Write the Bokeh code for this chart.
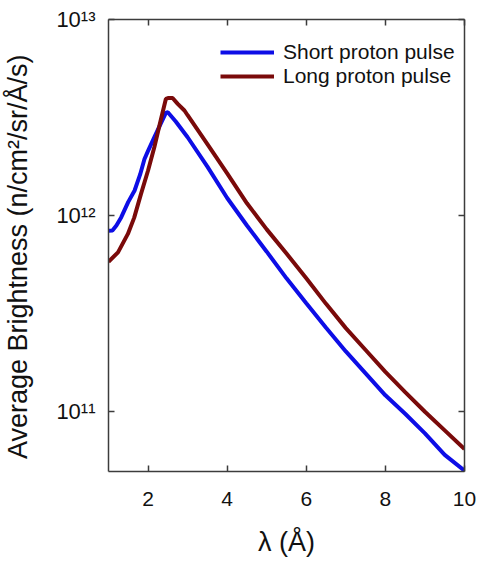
from bokeh.plotting import figure
from bokeh.models import Range1d, FixedTicker, LinearAxis, LogAxis, Legend, LegendItem
from bokeh.embed import file_html
from bokeh.resources import INLINE

# Wavelength (Å) and brightness (n/cm^2/sr/Å/s)
short_x = [1.0, 1.1, 1.2, 1.32, 1.5, 1.66, 1.8, 1.91, 2.0, 2.16, 2.3, 2.45, 2.5,
           2.7, 3.0, 3.5, 4.0, 4.5, 5.0, 5.5, 6.0, 6.5, 7.0, 7.5, 8.0, 8.5, 9.0, 9.5, 10.0]
short_y = [8.37e11, 8.41e11, 8.91e11, 9.79e11, 1.175e12, 1.343e12, 1.622e12, 1.945e12,
           2.138e12, 2.512e12, 2.884e12, 3.342e12, 3.365e12, 3.02e12, 2.51e12, 1.778e12,
           1.23e12, 8.91e11, 6.55e11, 4.79e11, 3.58e11, 2.68e11, 2.03e11, 1.57e11,
           1.213e11, 9.77e10, 7.76e10, 6.03e10, 5.01e10]

long_x = [1.0, 1.24, 1.49, 1.65, 1.82, 2.0, 2.16, 2.3, 2.45, 2.52, 2.62, 2.75, 2.92,
          3.0, 3.5, 4.0, 4.5, 5.0, 5.5, 6.0, 6.5, 7.0, 7.5, 8.0, 8.5, 9.0, 9.5, 10.0]
long_y = [5.82e11, 6.50e11, 8.07e11, 9.77e11, 1.288e12, 1.698e12, 2.239e12, 2.951e12,
          3.936e12, 3.98e12, 3.98e12, 3.715e12, 3.436e12, 3.25e12, 2.317e12, 1.644e12,
          1.156e12, 8.51e11, 6.41e11, 4.79e11, 3.55e11, 2.67e11, 2.065e11, 1.596e11,
          1.259e11, 1.0e11, 8.04e10, 6.46e10]

x_ticks = [2, 4, 6, 8, 10]
y_ticks = [1e11, 1e12, 1e13]
y_tick_labels = ["10\u00b9\u00b9", "10\u00b9\u00b2", "10\u00b9\u00b3"]

series_names = ["Short proton pulse", "Long proton pulse"]
series_colors = ["#0d0de6", "#7a0a0a"]

FONT = "Liberation Sans"
AX_COLOR = "#3c3c3c"

p = figure(width=479, height=564, output_backend="svg", toolbar_location=None,
           y_axis_type="log", x_range=Range1d(1, 10), y_range=Range1d(4.96e10, 1e13),
           min_border_left=107, min_border_right=15, min_border_top=19, min_border_bottom=93,
           x_axis_location=None, y_axis_location=None)
p.outline_line_color = None
p.xgrid.visible = False
p.ygrid.visible = False
p.background_fill_color = "white"
p.border_fill_color = "white"

r1 = p.line(short_x, short_y, line_color=series_colors[0], line_width=4)
r2 = p.line(long_x, long_y, line_color=series_colors[1], line_width=4)

def style(ax):
    ax.axis_line_color = AX_COLOR
    ax.axis_line_width = 1.5
    ax.major_tick_line_color = AX_COLOR
    ax.major_tick_line_width = 1.5
    ax.major_tick_in = 6
    ax.major_tick_out = 0
    ax.minor_tick_line_color = None
    ax.major_label_text_font = FONT
    ax.major_label_text_color = "#111111"
    ax.axis_label_text_font = FONT
    ax.axis_label_text_font_style = "normal"
    ax.axis_label_text_color = "#111111"

xb = LinearAxis(ticker=FixedTicker(ticks=x_ticks), axis_label="\u03bb (\u00c5)")
style(xb)
xb.major_label_text_font_size = "21px"
xb.major_label_standoff = 20
xb.axis_label_text_font_size = "27px"
xb.axis_label_standoff = 18
p.add_layout(xb, "below")

xt = LinearAxis(ticker=FixedTicker(ticks=x_ticks))
style(xt)
xt.major_label_overrides = {t: "" for t in x_ticks}
xt.major_label_standoff = 0
p.add_layout(xt, "above")

yl = LogAxis(ticker=FixedTicker(ticks=y_ticks),
             axis_label="Average Brightness (n/cm\u00b2/sr/\u00c5/s)\u00a0\u00a0\u00a0")
yl.major_label_overrides = {t: s for t, s in zip(y_ticks, y_tick_labels)}
style(yl)
yl.major_label_text_font_size = "22px"
yl.major_label_standoff = 13
yl.axis_label_text_font_size = "27px"
yl.axis_label_standoff = 20
p.add_layout(yl, "left")

yr = LogAxis(ticker=FixedTicker(ticks=y_ticks))
style(yr)
yr.major_label_overrides = {t: "" for t in y_ticks}
yr.major_label_standoff = 0
p.add_layout(yr, "right")

legend = Legend(items=[LegendItem(label=series_names[0], renderers=[r1]),
                       LegendItem(label=series_names[1], renderers=[r2])],
                location=(112, 383), padding=0, margin=0, spacing=0,
                glyph_width=54, glyph_height=24, label_height=24, label_standoff=9,
                label_text_font=FONT, label_text_font_size="21px",
                label_text_color="#111111",
                background_fill_alpha=0, border_line_color=None)
p.add_layout(legend, "center")

open("out.html", "w").write(file_html(p, INLINE))
